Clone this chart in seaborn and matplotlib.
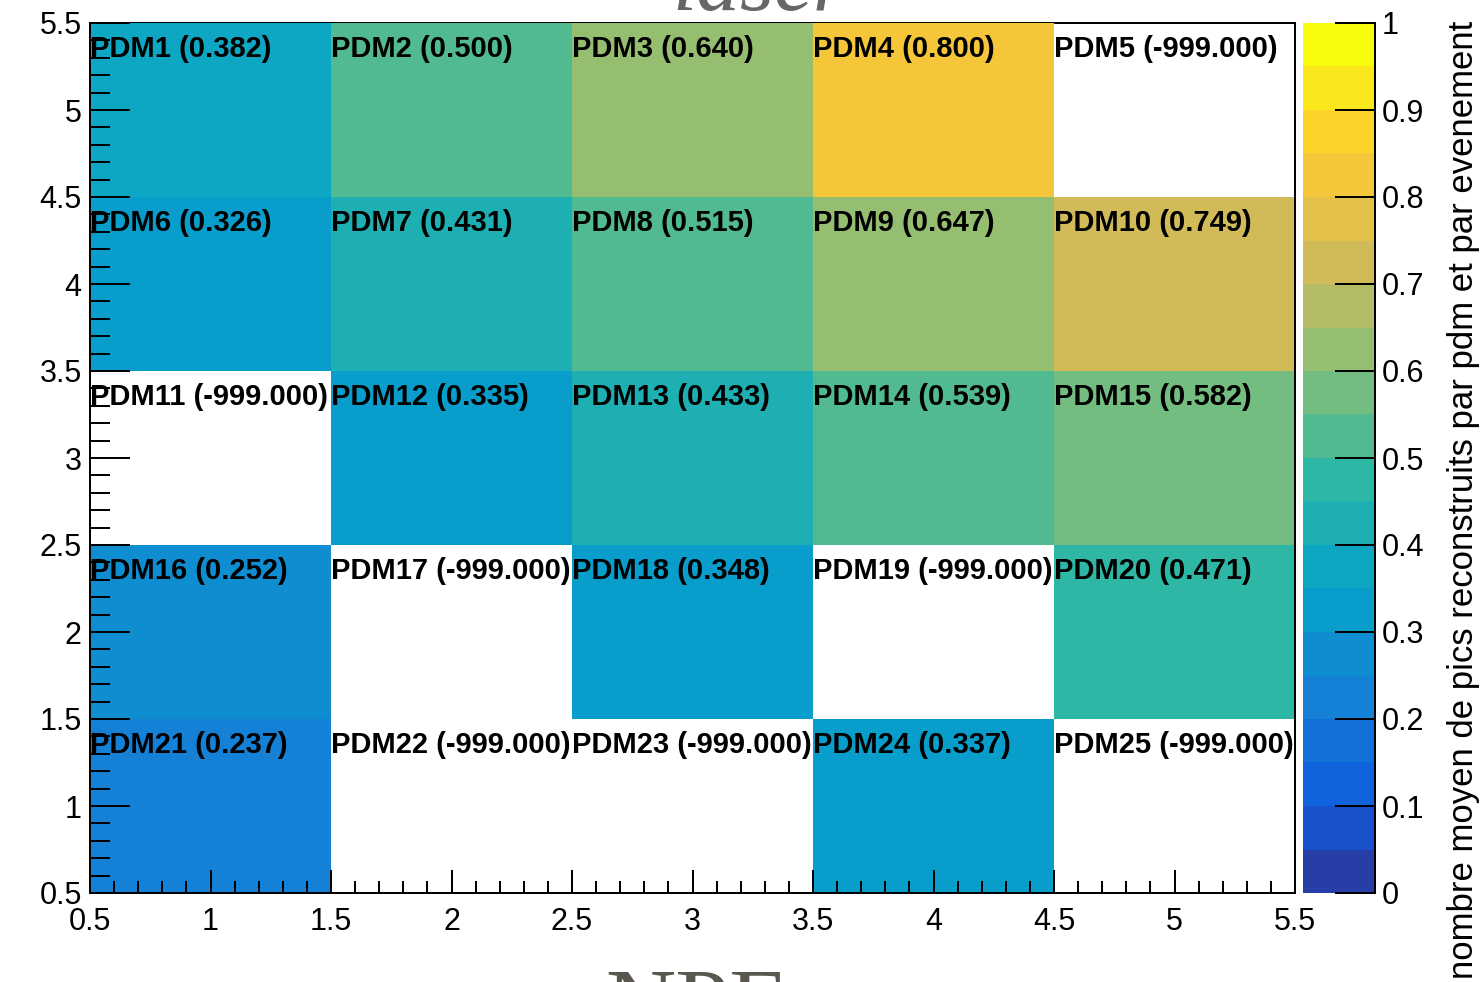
import numpy as np
import pandas as pd
import matplotlib
matplotlib.use("Agg")
import matplotlib.pyplot as plt
from matplotlib.colors import LinearSegmentedColormap, ListedColormap, BoundaryNorm
from matplotlib.ticker import MultipleLocator, FuncFormatter
import seaborn as sns

# Mean number of reconstructed peaks per PDM and per event (laser run).
# -999 marks PDMs without data.
npe_bins = [1, 2, 3, 4, 5]
y_bins = [1, 2, 3, 4, 5]
pdm_ids = [
    [21, 22, 23, 24, 25],
    [16, 17, 18, 19, 20],
    [11, 12, 13, 14, 15],
    [6, 7, 8, 9, 10],
    [1, 2, 3, 4, 5],
]
peaks = [
    [0.237, -999.0, -999.0, 0.337, -999.0],
    [0.252, -999.0, 0.348, -999.0, 0.471],
    [-999.0, 0.335, 0.433, 0.539, 0.582],
    [0.326, 0.431, 0.515, 0.647, 0.749],
    [0.382, 0.500, 0.640, 0.800, -999.0],
]
cbar_ticks = [0, 0.1, 0.2, 0.3, 0.4, 0.5, 0.6, 0.7, 0.8, 0.9, 1]

title = "laser"
xlabel = "NPE"
zlabel = "nombre moyen de pics reconstruits par pdm et par evenement"

# "Bird" palette, 20 contour levels between 0 and 1
stops = [0.0, 0.125, 0.25, 0.375, 0.5, 0.625, 0.75, 0.875, 1.0]
red = [0.2082, 0.0592, 0.0780, 0.0232, 0.1802, 0.5301, 0.8186, 0.9956, 0.9764]
green = [0.1664, 0.3599, 0.5041, 0.6419, 0.7178, 0.7492, 0.7328, 0.7862, 0.9832]
blue = [0.5293, 0.8684, 0.8385, 0.7914, 0.6425, 0.4662, 0.3499, 0.1968, 0.0539]
bird = LinearSegmentedColormap.from_list(
    "bird", [(s, (r, g, b)) for s, r, g, b in zip(stops, red, green, blue)], N=255)
nlev = 20
level_cmap = ListedColormap([bird((i + 0.99) / nlev) for i in range(nlev)])
bounds = np.round(np.linspace(0, 1, nlev + 1), 10)
norm = BoundaryNorm(bounds, nlev)

df = pd.DataFrame(peaks, index=y_bins, columns=npe_bins)
mask = df < 0

sns.set_theme(style="white")
plt.rcParams["font.family"] = ["Liberation Sans", "DejaVu Sans"]
plt.rcParams["axes.axisbelow"] = False

W, H = 1480, 982
PX = 0.72  # points per pixel at 100 dpi
fig = plt.figure(figsize=(W / 100, H / 100), dpi=100)
ax = fig.add_axes([90 / W, 1 - 893 / H, (1295 - 90) / W, (893 - 23) / H])
cax = fig.add_axes([1303 / W, 1 - 893 / H, (1375 - 1303) / W, (893 - 23) / H])

sns.heatmap(df, mask=mask, cmap=level_cmap, norm=norm, ax=ax, cbar_ax=cax,
            linewidths=0, xticklabels=False, yticklabels=False)
ax.invert_yaxis()
ax.set_xlim(0, len(npe_bins))
ax.set_ylim(0, len(y_bins))
ax.set_xlabel("")
ax.set_ylabel("")
ax.set_axisbelow(False)
cax.set_axisbelow(False)

# Frame
for side, sp in ax.spines.items():
    sp.set_visible(True)
    sp.set_color("black")
    sp.set_linewidth(2 * PX)
ax.spines["top"].set_zorder(0.5)

# Axis ticks: heatmap cell i spans [i, i+1] and is centered on bin value i+1
fmt = FuncFormatter(lambda p, _: f"{p + 0.5:g}")
for axis in (ax.xaxis, ax.yaxis):
    axis.set_major_locator(MultipleLocator(0.5))
    axis.set_minor_locator(MultipleLocator(0.1))
    axis.set_major_formatter(fmt)
ax.tick_params(axis="both", which="both", direction="in", colors="black",
               labelsize=22, width=2 * PX, top=False, right=False,
               bottom=True, left=True)
ax.tick_params(axis="x", which="major", length=23 * PX, pad=10)
ax.tick_params(axis="x", which="minor", length=12 * PX)
ax.tick_params(axis="y", which="major", length=40 * PX, pad=6)
ax.tick_params(axis="y", which="minor", length=20 * PX)

# Cell annotations
for r, yv in enumerate(y_bins):
    for c, xv in enumerate(npe_bins):
        ax.text(c, r + 1 - 0.195, f"PDM{pdm_ids[r][c]} ({peaks[r][c]:.3f})",
                ha="left", va="baseline", fontsize=21, fontweight="bold",
                color="black", zorder=5, clip_on=False)

# Colour scale
cb = ax.collections[0].colorbar
cb.outline.set_visible(False)
cb.set_ticks(cbar_ticks)
cb.set_ticklabels([f"{t:g}" for t in cbar_ticks])
cax.minorticks_off()
cax.tick_params(axis="y", which="major", direction="in", length=40 * PX,
                width=2 * PX, labelsize=22, pad=5, colors="black",
                right=True, left=False, labelright=True, labelleft=False)
cax.spines["right"].set_visible(True)
cax.spines["right"].set_color("black")
cax.spines["right"].set_linewidth(2 * PX)

fig.text(1464 / W, 1 - 500 / H, zlabel, rotation=90, ha="center", va="center",
         fontsize=25, color="black")

# Title and x-axis title (large serif, partly outside the canvas)
fig.text(760 / W, 1 - 10 / H, title, ha="center", va="baseline", fontsize=63,
         style="italic", color="#666666", family=["Liberation Serif", "DejaVu Serif"])
fig.text(697 / W, 1 - 1036 / H, xlabel, ha="center", va="baseline", fontsize=70,
         color="#5a5750", family=["Liberation Serif", "DejaVu Serif"])

fig.savefig("out.png", dpi=100)
